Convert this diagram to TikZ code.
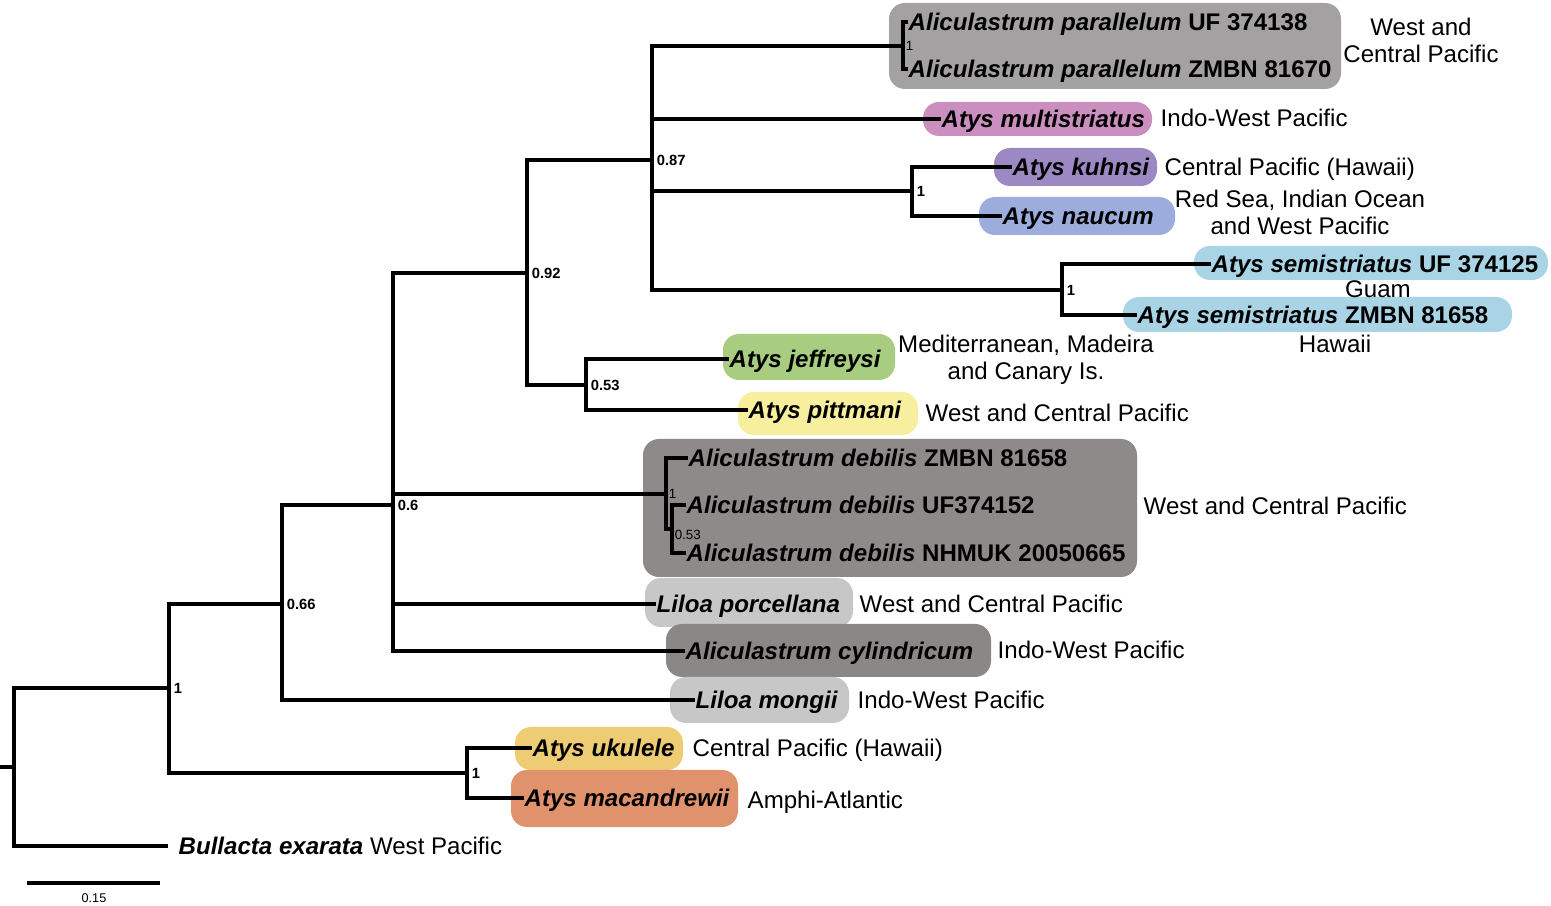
\documentclass[tikz,border=0pt]{standalone}
\usepackage{fontspec}
\setmainfont{Liberation Sans}
\usepackage{tikz}
\definecolor{cPar}{HTML}{A3A1A1}
\definecolor{cMul}{HTML}{CB8FBF}
\definecolor{cKuh}{HTML}{9C88C3}
\definecolor{cNau}{HTML}{9CACDC}
\definecolor{cSem}{HTML}{A8D4E6}
\definecolor{cJef}{HTML}{A8CC80}
\definecolor{cPit}{HTML}{F7EF9E}
\definecolor{cDeb}{HTML}{8E8A8A}
\definecolor{cLil}{HTML}{C8C7C7}
\definecolor{cCyl}{HTML}{8B8787}
\definecolor{cUku}{HTML}{EECC73}
\definecolor{cMac}{HTML}{E0926C}
\newcommand{\taxon}[1]{\textbf{\textit{#1}}}
\newcommand{\fsz}{\fontsize{6.85pt}{7.7pt}\selectfont}

\begin{document}
\begin{tikzpicture}[x=0.1mm, y=-0.1mm,
  br/.style={line width=0.9pt, line join=miter},
  clade/.style={rounded corners=1.6mm},
  tip/.style={anchor=west, inner sep=0pt, text depth=0pt, font=\fsz},
  reg/.style={anchor=west, inner sep=0pt, text depth=0pt, font=\fsz},
  regc/.style={align=center, inner sep=0pt, font=\fsz},
  prob/.style={anchor=west, inner sep=0pt, xshift=1.2pt, font=\bfseries\fontsize{4.2pt}{5pt}\selectfont},
  probsm/.style={anchor=west, inner sep=0pt, xshift=0.6pt, font=\fontsize{3.8pt}{4.5pt}\selectfont},
]
  \useasboundingbox (0,0) rectangle (1551,906);
  % ---- coloured clade boxes ----
  \fill[clade, cPar] (889,3)    rectangle (1341,89);
  \fill[clade, cMul] (923,102)  rectangle (1152,136);
  \fill[clade, cKuh] (994,148)  rectangle (1157,186);
  \fill[clade, cNau] (979,197)  rectangle (1175,235);
  \fill[clade, cSem] (1194,246) rectangle (1548,280);
  \fill[clade, cSem] (1123,297) rectangle (1512,332);
  \fill[clade, cJef] (723,334)  rectangle (895,380);
  \fill[clade, cPit] (738,392)  rectangle (918,435);
  \fill[clade, cDeb] (643,439)  rectangle (1137,577);
  \fill[clade, cLil] (645,578)  rectangle (853,627);
  \fill[clade, cCyl] (666,624)  rectangle (991,677);
  \fill[clade, cLil] (670,677)  rectangle (849,723);
  \fill[clade, cUku] (515,727)  rectangle (683,770);
  \fill[clade, cMac] (511,770)  rectangle (738,827);
  % ---- internal nodes ----
  \coordinate (stem)  at (0,767);
  \coordinate (root)  at (14,767);
  \coordinate (nA)    at (169,688);
  \coordinate (n066)  at (282,604);
  \coordinate (n06)   at (393,505);
  \coordinate (n092)  at (527,273);
  \coordinate (n087)  at (652,160);
  \coordinate (npar)  at (903,46);
  \coordinate (nkuh)  at (912,191);
  \coordinate (nsem)  at (1062,290);
  \coordinate (n053)  at (586,385);
  \coordinate (ndeb)  at (666,494);
  \coordinate (ndebb) at (672,529);
  \coordinate (nuku)  at (467,773);
  % ---- tips ----
  \node[tip] (parUF) at (908,22)  {\taxon{Aliculastrum parallelum} \textbf{UF 374138}};
  \node[tip] (parZM) at (908,69)  {\taxon{Aliculastrum parallelum} \textbf{ZMBN 81670}};
  \node[tip] (multi) at (941,119) {\taxon{Atys multistriatus}};
  \node[tip] (kuhn)  at (1012,167) {\taxon{Atys kuhnsi}};
  \node[tip] (nauc)  at (1002,216) {\taxon{Atys naucum}};
  \node[tip] (semUF) at (1211,264) {\taxon{Atys semistriatus} \textbf{UF 374125}};
  \node[tip] (semZM) at (1137,315) {\taxon{Atys semistriatus} \textbf{ZMBN 81658}};
  \node[tip] (jeff)  at (729,359) {\taxon{Atys jeffreysi}};
  \node[tip] (pitt)  at (748,410) {\taxon{Atys pittmani}};
  \node[tip] (debZM) at (688,458) {\taxon{Aliculastrum debilis} \textbf{ZMBN 81658}};
  \node[tip] (debUF) at (686,505) {\taxon{Aliculastrum debilis} \textbf{UF374152}};
  \node[tip] (debNH) at (686,553) {\taxon{Aliculastrum debilis} \textbf{NHMUK 20050665}};
  \node[tip] (porc)  at (656,604) {\taxon{Liloa porcellana}};
  \node[tip] (cyli)  at (685,651) {\taxon{Aliculastrum cylindricum}};
  \node[tip] (mong)  at (695,700) {\taxon{Liloa mongii}};
  \node[tip] (ukul)  at (532,748) {\taxon{Atys ukulele}};
  \node[tip] (macan) at (524,798) {\taxon{Atys macandrewii}};
  \node[tip, inner xsep=1mm] (bull) at (168,846) {\taxon{Bullacta exarata} West Pacific};
  % ---- branches ----
  \draw[br] (stem) -- (root);
  \draw[br] (root) |- (nA);
  \draw[br] (root) |- (bull.west);
  \draw[br] (nA) |- (n066);
  \draw[br] (nA) |- (nuku);
  \draw[br] (nuku) |- (ukul.west);
  \draw[br] (nuku) |- (macan.west);
  \draw[br] (n066) |- (n06);
  \draw[br] (n066) |- (mong.west);
  \draw[br] (n06) |- (n092);
  \draw[br] (n06) |- (ndeb);
  \draw[br] (n06) |- (porc.west);
  \draw[br] (n06) |- (cyli.west);
  \draw[br] (ndeb) |- (debZM.west);
  \draw[br] (ndeb) |- (ndebb);
  \draw[br] (ndebb) |- (debUF.west);
  \draw[br] (ndebb) |- (debNH.west);
  \draw[br] (n092) |- (n087);
  \draw[br] (n092) |- (n053);
  \draw[br] (n053) |- (jeff.west);
  \draw[br] (n053) |- (pitt.west);
  \draw[br] (n087) |- (npar);
  \draw[br] (n087) |- (multi.west);
  \draw[br] (n087) |- (nkuh);
  \draw[br] (n087) |- (nsem);
  \draw[br] (npar) |- (parUF.west);
  \draw[br] (npar) |- (parZM.west);
  \draw[br] (nkuh) |- (kuhn.west);
  \draw[br] (nkuh) |- (nauc.west);
  \draw[br] (nsem) |- (semUF.west);
  \draw[br] (nsem) |- (semZM.west);
  % ---- posterior probabilities ----
  \node[prob] at (nA)   {1};
  \node[prob] at (n066) {0.66};
  \node[prob] at (n06)  {0.6};
  \node[prob] at (n092) {0.92};
  \node[prob] at (n087) {0.87};
  \node[prob] at (n053) {0.53};
  \node[prob] at (nkuh) {1};
  \node[prob] at (nsem) {1};
  \node[prob] at (nuku) {1};
  \node[probsm] at (npar)  {1};
  \node[probsm] at (ndeb)  {1};
  \node[probsm, anchor=north west] at (ndebb) {0.53};
  % ---- distributions ----
  \node[regc] (rPar) at (1421,40)  {West and\\Central Pacific};
  \node[reg]  (rMul) at (1160,118) {Indo-West Pacific};
  \node[reg]  (rKuh) at (1164,167) {Central Pacific (Hawaii)};
  \node[regc] (rNau) at (1300,212) {Red Sea, Indian Ocean\\and West Pacific};
  \node[regc, text depth=0pt] (rGua) at (1378,289) {Guam};
  \node[regc, text depth=0pt] (rHaw) at (1335,344) {Hawaii};
  \node[regc] (rJef) at (1026,360) {Mediterranean, Madeira\\and Canary Is.};
  \node[reg]  (rPit) at (925,413)  {West and Central Pacific};
  \node[reg]  (rDeb) at (1143,506) {West and Central Pacific};
  \node[reg]  (rPor) at (859,604)  {West and Central Pacific};
  \node[reg]  (rCyl) at (997,650)  {Indo-West Pacific};
  \node[reg]  (rMon) at (857,700)  {Indo-West Pacific};
  \node[reg]  (rUku) at (692,748)  {Central Pacific (Hawaii)};
  \node[reg]  (rMac) at (747,800)  {Amphi-Atlantic};
  % ---- scale bar ----
  \coordinate (sbL) at (27,883);
  \coordinate (sbR) at (160,883);
  \draw[br] (sbL) -- (sbR);
  \node[inner sep=0pt, font=\fontsize{3.6pt}{4pt}\selectfont] (sbLab) at (94,898) {0.15};
\end{tikzpicture}
\end{document}
